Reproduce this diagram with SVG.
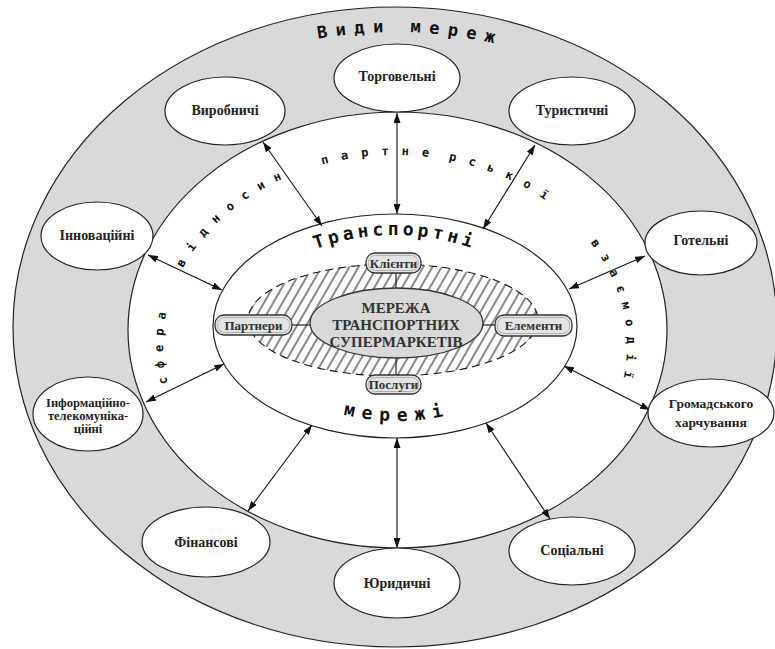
<svg xmlns="http://www.w3.org/2000/svg" width="775" height="649" viewBox="0 0 775 649">
<style>
.node ellipse{fill:#fff;stroke:#222;stroke-width:1.2}
.nt{font-family:"Liberation Serif","Times New Roman",serif;font-weight:bold;font-size:14px;fill:#222;text-anchor:middle}
.nt2{font-size:13.5px}
.nt3{font-size:12.5px}
.conn line{stroke:#111;stroke-width:1.1}
.conn .bi{marker-start:url(#ah);marker-end:url(#ah)}
.arc{font-family:"DejaVu Sans Mono",monospace;font-weight:bold;fill:#111}
.box .o{fill:#e4e4e4;stroke:#333;stroke-width:1.3}
.box .i{fill:none;stroke:#9a9a9a;stroke-width:0.7}
.bt{font-family:"Liberation Serif","Times New Roman",serif;font-weight:bold;font-size:13px;fill:#333;text-anchor:middle}
.ct{font-family:"Liberation Serif","Times New Roman",serif;font-weight:bold;font-size:15px;fill:#333;text-anchor:middle}
</style>
<defs>
<marker id="ah" viewBox="0 0 10 7" refX="10" refY="3.5" markerWidth="10" markerHeight="7" markerUnits="userSpaceOnUse" orient="auto-start-reverse"><path d="M0,0L10,3.5L0,7z" fill="#111"/></marker>
<pattern id="hatch" width="8" height="8" patternUnits="userSpaceOnUse" patternTransform="rotate(30)"><line x1="4" y1="-1" x2="4" y2="9" stroke="#111" stroke-width="1"/></pattern>
<path id="pVidy" d="M300,42.6 A357,295 0 0,1 700,173.6"/>
<path id="pRing" d="M170.9,394.2 A232,190 0 1,1 619.1,394.2"/>
<path id="pTr" d="M300,255.5 A230,230 0 0,1 490,255.5"/>
<path id="pMe" d="M290,394.6 A230,230 0 0,0 504,394.6"/>
</defs>

<g id="background">
<ellipse cx="395" cy="327" rx="382" ry="320" fill="#d9d9d9" stroke="#222" stroke-width="1.2"/>
<ellipse cx="397.5" cy="330" rx="269.5" ry="218" fill="#fff" stroke="#222" stroke-width="1.2"/>
<ellipse cx="395" cy="326" rx="182" ry="112" fill="#fff" stroke="#222" stroke-width="1.2"/>
</g>

<g id="labels">
<text class="arc" font-size="17" letter-spacing="8.3"><textPath href="#pVidy" startOffset="18.3">Види мереж</textPath></text>
<text class="arc" font-size="12" letter-spacing="8.78"><textPath href="#pRing" startOffset="11.1">сфера</textPath></text>
<text class="arc" font-size="12" letter-spacing="11.08"><textPath href="#pRing" startOffset="130.4">відносин</textPath></text>
<text class="arc" font-size="12" letter-spacing="12.88"><textPath href="#pRing" startOffset="308.2">партне</textPath></text>
<text class="arc" font-size="12" letter-spacing="12.28"><textPath href="#pRing" startOffset="436">рської</textPath></text>
<text class="arc" font-size="12" letter-spacing="9.78"><textPath href="#pRing" startOffset="603.4">взаємодії</textPath></text>
<text class="arc" font-size="18" letter-spacing="3.9" text-anchor="middle"><textPath href="#pTr" startOffset="50%">Транспортні</textPath></text>
<text class="arc" font-size="18" letter-spacing="7.2" text-anchor="middle"><textPath href="#pMe" startOffset="50%">мережі</textPath></text>
</g>

<g id="connectors" class="conn">
<line class="bi" x1="397" y1="113" x2="397" y2="214"/>
<line class="bi" x1="535" y1="145" x2="483" y2="229"/>
<line class="bi" x1="263" y1="142" x2="322" y2="226"/>
<line class="bi" x1="148" y1="255" x2="222" y2="290"/>
<line class="bi" x1="146" y1="402" x2="224" y2="364"/>
<line class="bi" x1="645" y1="256" x2="569" y2="289"/>
<line class="bi" x1="650" y1="410" x2="564" y2="366"/>
<line class="bi" x1="248" y1="511" x2="312" y2="425"/>
<line class="bi" x1="397" y1="548" x2="397" y2="438"/>
<line class="bi" x1="550" y1="519" x2="486" y2="423"/>
<line x1="396" y1="273" x2="396" y2="288"/>
<line x1="396" y1="358" x2="396" y2="375"/>
<line x1="292" y1="325" x2="310" y2="325"/>
<line x1="483" y1="325" x2="495" y2="325"/>
</g>

<g id="core">
<ellipse cx="393" cy="320" rx="145" ry="56" fill="url(#hatch)" stroke="#111" stroke-width="1.1" stroke-dasharray="8,5"/>
<ellipse cx="396.5" cy="323" rx="86.5" ry="35" fill="#d9d9d9" stroke="#333" stroke-width="1.3"/>
<text class="ct" x="396" y="313">МЕРЕЖА</text>
<text class="ct" x="396" y="330">ТРАНСПОРТНИХ</text>
<text class="ct" x="396" y="347">СУПЕРМАРКЕТІВ</text>
</g>

<g id="box-klienty" class="box"><rect class="o" x="366" y="253" width="55" height="20" rx="9"/><rect class="i" x="368.5" y="255.5" width="50" height="15" rx="7"/><text class="bt" x="393.5" y="267.5">Клієнти</text></g>
<g id="box-partnery" class="box"><rect class="o" x="215" y="315" width="77" height="20" rx="9"/><rect class="i" x="217.5" y="317.5" width="72" height="15" rx="7"/><text class="bt" x="253.5" y="329.5">Партнери</text></g>
<g id="box-elementy" class="box"><rect class="o" x="495" y="315" width="77" height="21" rx="9"/><rect class="i" x="497.5" y="317.5" width="72" height="16" rx="7"/><text class="bt" x="533.5" y="330">Елементи</text></g>
<g id="box-posluhy" class="box"><rect class="o" x="366" y="375" width="55" height="19" rx="9"/><rect class="i" x="368.5" y="377.5" width="50" height="14" rx="7"/><text class="bt" x="393.5" y="389">Послуги</text></g>

<g id="n-torgovelni" class="node"><ellipse cx="397" cy="78" rx="63" ry="34"/><text class="nt" x="397" y="81">Торговельні</text></g>
<g id="n-vyrobnychi" class="node"><ellipse cx="225" cy="111" rx="60" ry="34"/><text class="nt" x="225" y="115">Виробничі</text></g>
<g id="n-turystychni" class="node"><ellipse cx="572" cy="111" rx="63" ry="34"/><text class="nt" x="572" y="115">Туристичні</text></g>
<g id="n-innovatsiini" class="node"><ellipse cx="97" cy="236" rx="56" ry="34"/><text class="nt" x="97" y="240">Інноваційні</text></g>
<g id="n-hotelni" class="node"><ellipse cx="701" cy="243" rx="56" ry="32"/><text class="nt" x="701" y="245">Готельні</text></g>
<g id="n-informatsiini" class="node"><ellipse cx="88" cy="414" rx="55" ry="37"/><text class="nt nt3" x="88" y="406.5">Інформаційно-</text><text class="nt nt3" x="88" y="419.5">телекомуніка-</text><text class="nt nt3" x="88" y="432.5">ційні</text></g>
<g id="n-hromadskoho" class="node"><ellipse cx="711" cy="413" rx="63" ry="34"/><text class="nt nt2" x="711" y="407.5">Громадського</text><text class="nt nt2" x="711" y="426.5">харчування</text></g>
<g id="n-finansovi" class="node"><ellipse cx="206" cy="542" rx="64" ry="35"/><text class="nt" x="206" y="547">Фінансові</text></g>
<g id="n-yurydychni" class="node"><ellipse cx="397" cy="583" rx="63" ry="35"/><text class="nt" x="397" y="588">Юридичні</text></g>
<g id="n-sotsialni" class="node"><ellipse cx="572" cy="551" rx="63" ry="34"/><text class="nt" x="572" y="555">Соціальні</text></g>
</svg>
